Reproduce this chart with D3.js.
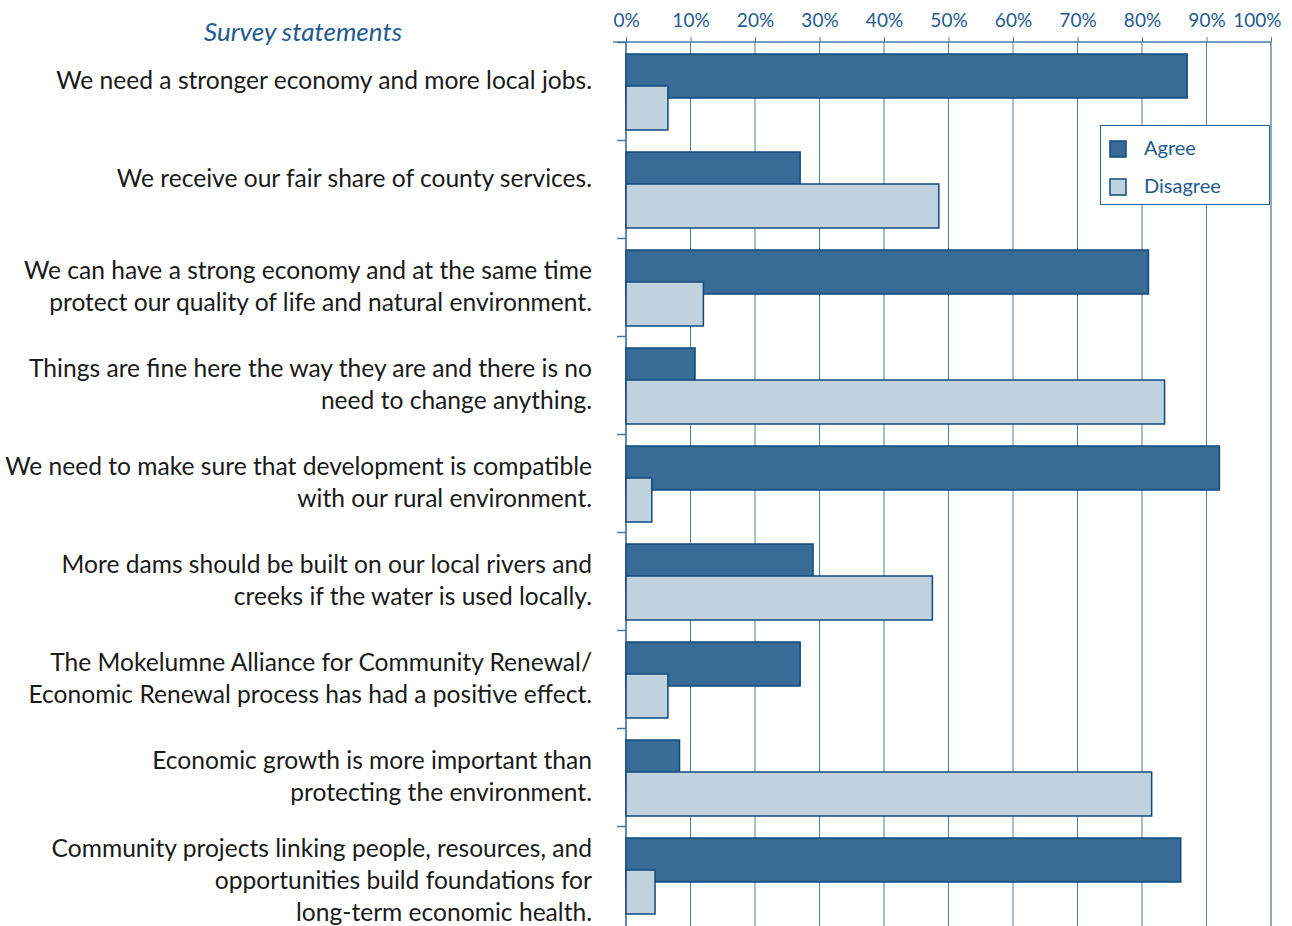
<!DOCTYPE html>
<html>
<head>
<meta charset="utf-8">
<script src="https://cdn.jsdelivr.net/npm/d3@7"></script>
<style>
  body { margin: 0; background: #fff; }
  svg { display: block; }
</style>
</head>
<body>
<svg id="chart" width="1292" height="926"></svg>
<script>
// survey statements, one array of lines per statement
const statements = [
  ["We need a stronger economy and more local jobs."],
  ["We receive our fair share of county services."],
  ["We can have a strong economy and at the same time", "protect our quality of life and natural environment."],
  ["Things are fine here the way they are and there is no", "need to change anything."],
  ["We need to make sure that development is compatible", "with our rural environment."],
  ["More dams should be built on our local rivers and", "creeks if the water is used locally."],
  ["The Mokelumne Alliance for Community Renewal/", "Economic Renewal process has had a positive effect."],
  ["Economic growth is more important than", "protecting the environment."],
  ["Community projects linking people, resources, and", "opportunities build foundations for", "long-term economic health."]
];
const agree    = [87, 27, 81, 10.7, 92, 29, 27, 8.3, 86];
const disagree = [6.5, 48.5, 12, 83.5, 4, 47.5, 6.5, 81.5, 4.5];
const series = ["Agree", "Disagree"];
const pctTicks = [0, 10, 20, 30, 40, 50, 60, 70, 80, 90, 100];

const blueText = "#1f5a92",
      darkStroke = "#11497f",
      agreeFill = "#386c96",
      disagreeFill = "#c0d2de",
      gridColor = "#4f7fab";

const svg = d3.select("#chart");
const font = "Lato, 'Open Sans', sans-serif";

const x = d3.scaleLinear().domain([0, 100]).range([626, 1271]);
const ids = statements.map((d, i) => i);
const y = d3.scaleBand().domain(ids).range([42, 924]).padding(0);
const bw = y.bandwidth();

// gridlines
svg.append("g").selectAll("line")
  .data(pctTicks)
  .join("line")
    .attr("x1", d => x(d)).attr("x2", d => x(d))
    .attr("y1", 42).attr("y2", 926)
    .attr("stroke", d => d === 100 ? "#8eabc5" : gridColor)
    .attr("stroke-width", d => d === 100 ? 2 : 1);

// top axis
const xAxis = svg.append("g")
  .attr("transform", "translate(0,42)")
  .call(d3.axisTop(x).tickValues(pctTicks).tickFormat(d => d + "%").tickSize(5).tickSizeOuter(0));
xAxis.select(".domain").remove();
xAxis.selectAll(".tick line").attr("stroke", gridColor);
xAxis.selectAll(".tick text")
  .attr("fill", blueText)
  .attr("font-family", font)
  .attr("font-size", 19)
  .attr("dy", "-7");
xAxis.selectAll(".tick text").filter(d => d === 100)
  .attr("text-anchor", "end").attr("x", 10);
svg.append("line")
  .attr("x1", 613).attr("x2", 1271).attr("y1", 42).attr("y2", 42)
  .attr("stroke", "#4a7aa6").attr("stroke-width", 1.5);

// left axis with ticks at band boundaries
svg.append("line")
  .attr("x1", 626).attr("x2", 626).attr("y1", 42).attr("y2", 926)
  .attr("stroke", "#4a7aa6").attr("stroke-width", 1.5);
svg.append("g").selectAll("line")
  .data(ids)
  .join("line")
    .attr("x1", 617).attr("x2", 626)
    .attr("y1", d => y(d) + 0.5).attr("y2", d => y(d) + 0.5)
    .attr("stroke", "#4a7aa6").attr("stroke-width", 1.5);

// bars: agree first, disagree drawn on top (overlapping)
const barH = bw * 44 / 98;
svg.append("g").selectAll("rect")
  .data(ids)
  .join("rect")
    .attr("x", x(0))
    .attr("y", d => y(d) + bw * 12 / 98)
    .attr("width", d => x(agree[d]) - x(0))
    .attr("height", barH)
    .attr("fill", agreeFill)
    .attr("stroke", darkStroke)
    .attr("stroke-width", 1.5);
svg.append("g").selectAll("rect")
  .data(ids)
  .join("rect")
    .attr("x", x(0))
    .attr("y", d => y(d) + bw * 44 / 98)
    .attr("width", d => x(disagree[d]) - x(0))
    .attr("height", barH)
    .attr("fill", disagreeFill)
    .attr("stroke", darkStroke)
    .attr("stroke-width", 1.5);

// statement labels
const firstBaseline = [47, 41, 31];
const labels = svg.append("g").selectAll("text")
  .data(ids)
  .join("text")
    .attr("text-anchor", "end")
    .attr("font-family", font)
    .attr("font-size", 24.6)
    .attr("fill", "#1a1a1a")
    .attr("y", d => y(d) + firstBaseline[statements[d].length - 1]);
labels.selectAll("tspan")
  .data(d => statements[d])
  .join("tspan")
    .attr("x", 592)
    .attr("dy", (d, i) => i === 0 ? 0 : 32)
    .text(d => d);

// heading
svg.append("text")
  .attr("x", 303).attr("y", 41)
  .attr("text-anchor", "middle")
  .attr("font-family", font)
  .attr("font-style", "italic")
  .attr("font-size", 26)
  .attr("fill", blueText)
  .text("Survey statements");

// legend
const legend = svg.append("g").attr("transform", "translate(1100,125)");
legend.append("rect")
  .attr("x", 0.5).attr("y", 0.5).attr("width", 169).attr("height", 79)
  .attr("fill", "#fff").attr("stroke", "#2a5f94");
const item = legend.selectAll(".item")
  .data(series)
  .join("g")
    .attr("transform", (d, i) => `translate(0,${16 + i * 38})`);
item.append("rect")
  .attr("x", 10).attr("y", 0).attr("width", 16).attr("height", 16)
  .attr("fill", (d, i) => i === 0 ? agreeFill : disagreeFill)
  .attr("stroke", darkStroke).attr("stroke-width", 1.5);
item.append("text")
  .attr("x", 44).attr("y", 14)
  .attr("font-family", font)
  .attr("font-size", 20)
  .attr("fill", blueText)
  .text(d => d);
</script>
</body>
</html>
